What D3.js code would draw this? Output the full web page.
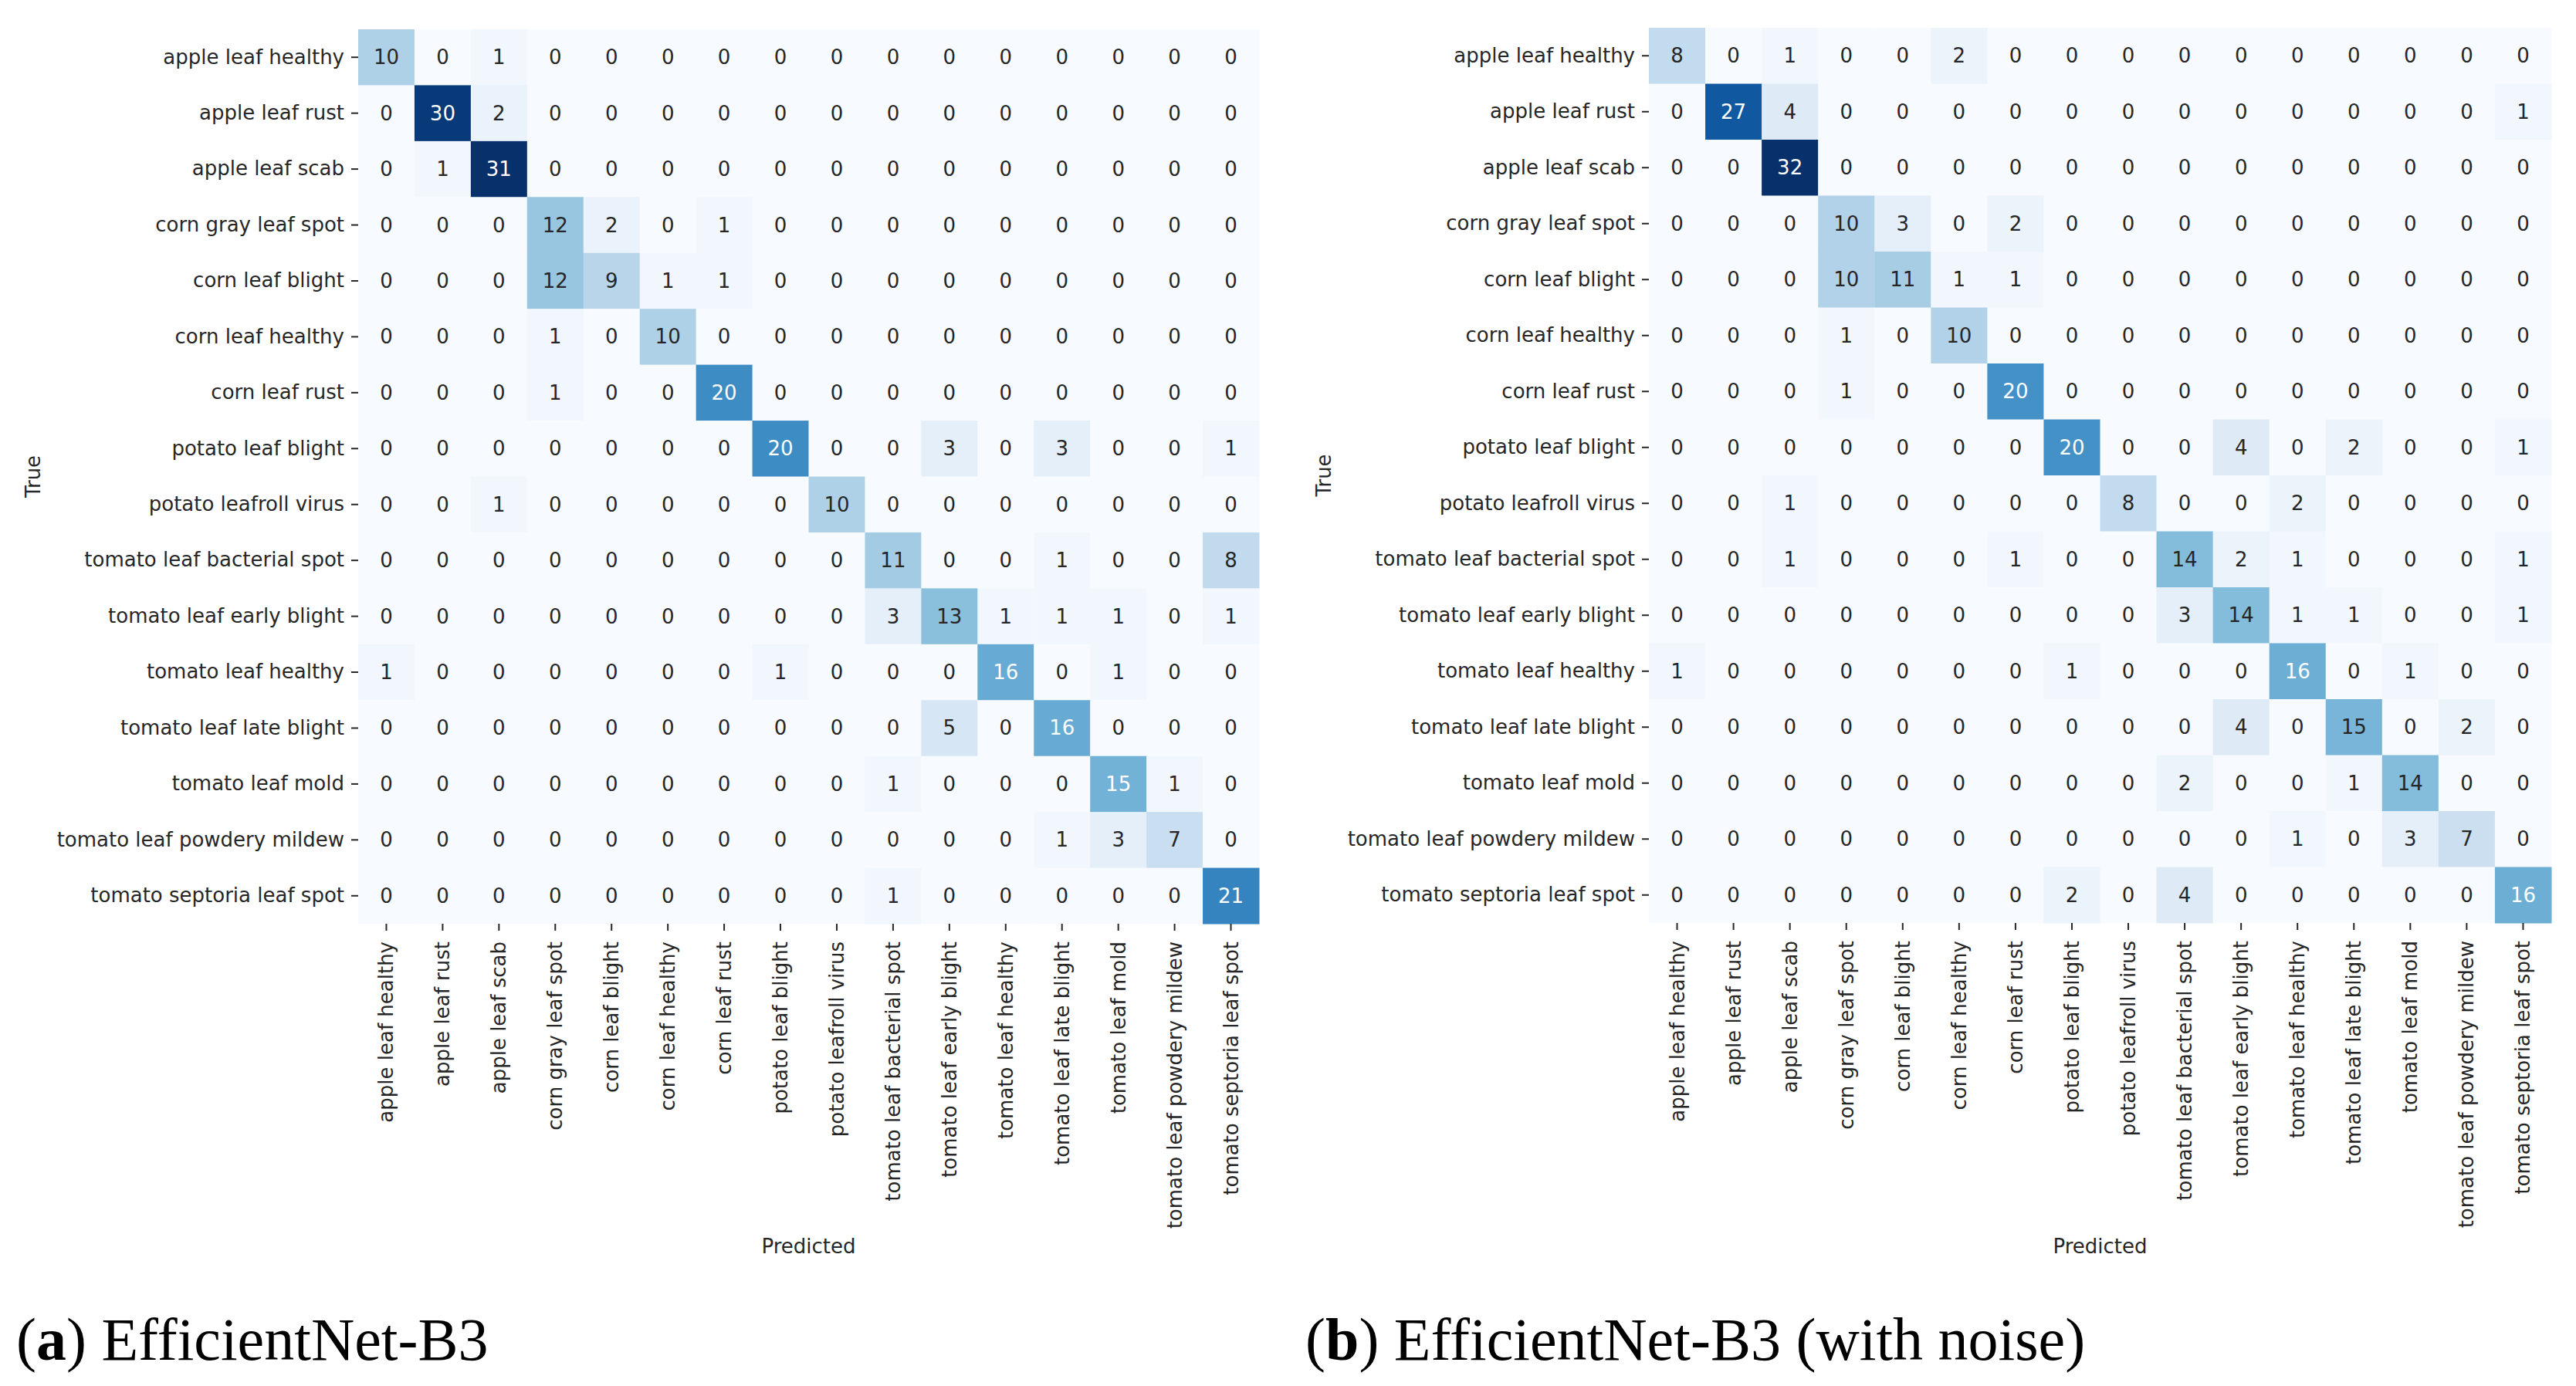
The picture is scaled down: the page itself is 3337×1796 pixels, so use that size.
<!DOCTYPE html>
<html>
<head>
<meta charset="utf-8">
<script src="https://cdn.jsdelivr.net/npm/d3@7"></script>
<style>
  html, body { margin: 0; padding: 0; background: #fff; }
  svg { display: block; }
</style>
</head>
<body>
<svg id="chart" width="3337" height="1796"></svg>
<script>
const categories = [
  "apple leaf healthy", "apple leaf rust", "apple leaf scab", "corn gray leaf spot",
  "corn leaf blight", "corn leaf healthy", "corn leaf rust", "potato leaf blight",
  "potato leafroll virus", "tomato leaf bacterial spot", "tomato leaf early blight",
  "tomato leaf healthy", "tomato leaf late blight", "tomato leaf mold",
  "tomato leaf powdery mildew", "tomato septoria leaf spot"
];

const matrixA = [
  [10,0,1,0,0,0,0,0,0,0,0,0,0,0,0,0],
  [0,30,2,0,0,0,0,0,0,0,0,0,0,0,0,0],
  [0,1,31,0,0,0,0,0,0,0,0,0,0,0,0,0],
  [0,0,0,12,2,0,1,0,0,0,0,0,0,0,0,0],
  [0,0,0,12,9,1,1,0,0,0,0,0,0,0,0,0],
  [0,0,0,1,0,10,0,0,0,0,0,0,0,0,0,0],
  [0,0,0,1,0,0,20,0,0,0,0,0,0,0,0,0],
  [0,0,0,0,0,0,0,20,0,0,3,0,3,0,0,1],
  [0,0,1,0,0,0,0,0,10,0,0,0,0,0,0,0],
  [0,0,0,0,0,0,0,0,0,11,0,0,1,0,0,8],
  [0,0,0,0,0,0,0,0,0,3,13,1,1,1,0,1],
  [1,0,0,0,0,0,0,1,0,0,0,16,0,1,0,0],
  [0,0,0,0,0,0,0,0,0,0,5,0,16,0,0,0],
  [0,0,0,0,0,0,0,0,0,1,0,0,0,15,1,0],
  [0,0,0,0,0,0,0,0,0,0,0,0,1,3,7,0],
  [0,0,0,0,0,0,0,0,0,1,0,0,0,0,0,21]
];

const matrixB = [
  [8,0,1,0,0,2,0,0,0,0,0,0,0,0,0,0],
  [0,27,4,0,0,0,0,0,0,0,0,0,0,0,0,1],
  [0,0,32,0,0,0,0,0,0,0,0,0,0,0,0,0],
  [0,0,0,10,3,0,2,0,0,0,0,0,0,0,0,0],
  [0,0,0,10,11,1,1,0,0,0,0,0,0,0,0,0],
  [0,0,0,1,0,10,0,0,0,0,0,0,0,0,0,0],
  [0,0,0,1,0,0,20,0,0,0,0,0,0,0,0,0],
  [0,0,0,0,0,0,0,20,0,0,4,0,2,0,0,1],
  [0,0,1,0,0,0,0,0,8,0,0,2,0,0,0,0],
  [0,0,1,0,0,0,1,0,0,14,2,1,0,0,0,1],
  [0,0,0,0,0,0,0,0,0,3,14,1,1,0,0,1],
  [1,0,0,0,0,0,0,1,0,0,0,16,0,1,0,0],
  [0,0,0,0,0,0,0,0,0,0,4,0,15,0,2,0],
  [0,0,0,0,0,0,0,0,0,2,0,0,1,14,0,0],
  [0,0,0,0,0,0,0,0,0,0,0,1,0,3,7,0],
  [0,0,0,0,0,0,0,2,0,4,0,0,0,0,0,16]
];

const panels = [
  { matrix: matrixA, x0: 464, x1: 1631, y0: 38, y1: 1197, trueX: 43, captionX: 21, bold: "a", title: " EfficientNet-B3" },
  { matrix: matrixB, x0: 2136, x1: 3305, y0: 36, y1: 1196, trueX: 1715, captionX: 1691, bold: "b", title: " EfficientNet-B3 (with noise)" }
];

const svg = d3.select("#chart");
const FONT = "DejaVu Sans, sans-serif";
const FS = 26;

function relLum(c) {
  const f = v => { v /= 255; return v <= 0.03928 ? v / 12.92 : Math.pow((v + 0.055) / 1.055, 2.4); };
  const r = d3.rgb(c);
  return 0.2126 * f(r.r) + 0.7152 * f(r.g) + 0.0722 * f(r.b);
}

panels.forEach(p => {
  const g = svg.append("g");
  const x = d3.scaleBand().domain(d3.range(categories.length)).range([p.x0, p.x1]).padding(0);
  const y = d3.scaleBand().domain(d3.range(categories.length)).range([p.y0, p.y1]).padding(0);
  const vmax = d3.max(p.matrix.flat());
  const color = d3.scaleSequential(d3.interpolateBlues).domain([0, vmax]);

  const cells = [];
  p.matrix.forEach((row, i) => row.forEach((v, j) => cells.push({ i, j, v })));

  g.selectAll("rect.cell").data(cells).join("rect")
    .attr("class", "cell")
    .attr("x", d => x(d.j))
    .attr("y", d => y(d.i))
    .attr("width", x.bandwidth() + 0.5)
    .attr("height", y.bandwidth() + 0.5)
    .attr("fill", d => color(d.v));

  g.selectAll("text.val").data(cells).join("text")
    .attr("class", "val")
    .attr("x", d => x(d.j) + x.bandwidth() / 2)
    .attr("y", d => y(d.i) + y.bandwidth() / 2)
    .attr("text-anchor", "middle")
    .attr("dominant-baseline", "central")
    .attr("font-family", FONT)
    .attr("font-size", FS)
    .attr("fill", d => relLum(color(d.v)) > 0.408 ? "#262626" : "#ffffff")
    .text(d => d.v);

  // Y axis
  const yAxis = d3.axisLeft(y).tickSize(9).tickPadding(9).tickFormat(i => categories[i]);
  const ya = g.append("g").attr("transform", `translate(${p.x0},0)`).call(yAxis);
  ya.select(".domain").remove();
  ya.selectAll("line").attr("stroke", "#262626").attr("stroke-width", 2);
  ya.selectAll("text").attr("font-family", FONT).attr("font-size", FS).attr("fill", "#262626");

  // X axis
  const xAxis = d3.axisBottom(x).tickSize(9).tickPadding(8).tickFormat(i => categories[i]);
  const xa = g.append("g").attr("transform", `translate(0,${p.y1})`).call(xAxis);
  xa.select(".domain").remove();
  xa.selectAll("line").attr("stroke", "#262626").attr("stroke-width", 2);
  xa.selectAll("text")
    .attr("font-family", FONT).attr("font-size", FS).attr("fill", "#262626")
    .attr("text-anchor", "end")
    .attr("dy", null)
    .attr("dominant-baseline", "central")
    .attr("transform", "translate(0,23) rotate(-90)")
    .attr("y", 0).attr("x", 0);

  // Axis titles
  g.append("text")
    .attr("x", (p.x0 + p.x1) / 2).attr("y", 1615)
    .attr("text-anchor", "middle").attr("dominant-baseline", "central")
    .attr("font-family", FONT).attr("font-size", FS).attr("fill", "#262626")
    .text("Predicted");
  g.append("text")
    .attr("transform", `translate(${p.trueX},${(p.y0 + p.y1) / 2}) rotate(-90)`)
    .attr("text-anchor", "middle").attr("dominant-baseline", "central")
    .attr("font-family", FONT).attr("font-size", FS).attr("fill", "#262626")
    .text("True");

  // Caption
  const cap = svg.append("text")
    .attr("x", p.captionX).attr("y", 1762)
    .attr("font-family", "Liberation Serif, serif").attr("font-size", 78).attr("fill", "#000");
  cap.append("tspan").text("(");
  cap.append("tspan").attr("font-weight", "bold").text(p.bold);
  cap.append("tspan").text(")" + p.title);
});
</script>
</body>
</html>
